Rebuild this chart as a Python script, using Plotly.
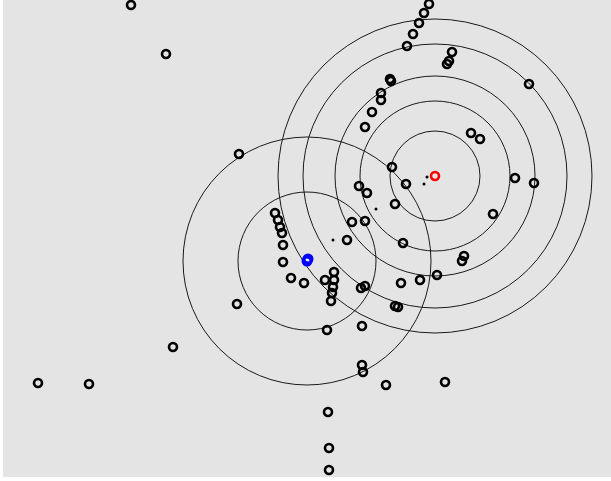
import plotly.graph_objects as go

# Black observation points (pixel-like coordinate system)
pts_x = [131, 166, 429, 424, 419, 413, 407, 452, 449, 447, 390, 391, 529, 381, 381, 372, 365,
         471, 480, 239, 392, 406, 359, 367, 515, 534, 395, 493, 275, 278, 280, 282, 283,
         352, 365, 347, 403, 283, 464, 462, 334, 325, 334, 333, 332, 331, 291, 304,
         361, 365, 437, 420, 401, 395, 398, 237, 327, 362, 173, 362, 363, 38, 89, 386,
         445, 328, 329, 329]
pts_y = [5, 54, 4, 13, 23, 34, 46, 52, 61, 64, 79, 81, 84, 93, 100, 112, 127,
         133, 139, 154, 167, 184, 186, 193, 178, 183, 204, 214, 213, 220, 227, 233, 245,
         222, 221, 240, 243, 262, 256, 261, 272, 280, 280, 287, 293, 301, 278, 283,
         288, 286, 275, 280, 283, 306, 307, 304, 330, 326, 347, 365, 372, 383, 384, 385,
         382, 412, 448, 470]

# tiny marks
tiny_x = [427, 424, 333, 376]
tiny_y = [177, 184, 240, 209]

# Centres
red_x, red_y = [435], [176]
blue_x, blue_y = [307, 308], [261, 259]

# Radii of the rings
red_radii = [45, 75, 100, 132, 157]
blue_radii = [69, 124]

fig = go.Figure()

shapes = []
for r in red_radii:
    shapes.append(dict(type="circle", xref="x", yref="y",
                       x0=red_x[0] - r, x1=red_x[0] + r, y0=red_y[0] - r, y1=red_y[0] + r,
                       line=dict(color="#1a1a1a", width=1), layer="below"))
for r in blue_radii:
    shapes.append(dict(type="circle", xref="x", yref="y",
                       x0=blue_x[0] - r, x1=blue_x[0] + r, y0=blue_y[0] - r, y1=blue_y[0] + r,
                       line=dict(color="#1a1a1a", width=1), layer="below"))

fig.add_trace(go.Scatter(x=pts_x, y=pts_y, mode="markers",
                         marker=dict(symbol="circle-open", size=8, color="black",
                                     line=dict(width=2.6, color="black")),
                         hoverinfo="skip"))
fig.add_trace(go.Scatter(x=tiny_x, y=tiny_y, mode="markers",
                         marker=dict(symbol="circle", size=3, color="black"),
                         hoverinfo="skip"))
fig.add_trace(go.Scatter(x=red_x, y=red_y, mode="markers",
                         marker=dict(symbol="circle-open", size=8, color="red",
                                     line=dict(width=2.6, color="red")),
                         hoverinfo="skip"))
fig.add_trace(go.Scatter(x=blue_x, y=blue_y, mode="markers",
                         marker=dict(symbol="circle-open", size=8, color="blue",
                                     line=dict(width=3, color="blue")),
                         hoverinfo="skip"))

fig.update_layout(
    width=611, height=481,
    margin=dict(l=3, r=0, t=0, b=4, pad=0),
    paper_bgcolor="white",
    plot_bgcolor="#e4e4e4",
    showlegend=False,
    shapes=shapes,
    xaxis=dict(range=[3, 611], visible=False, showgrid=False, zeroline=False, fixedrange=True),
    yaxis=dict(range=[477, 0], visible=False, showgrid=False, zeroline=False, fixedrange=True),
)

fig.write_html("out.html", config={"displayModeBar": False},
               post_script="document.body.style.margin='0';document.body.style.overflow='hidden';")
